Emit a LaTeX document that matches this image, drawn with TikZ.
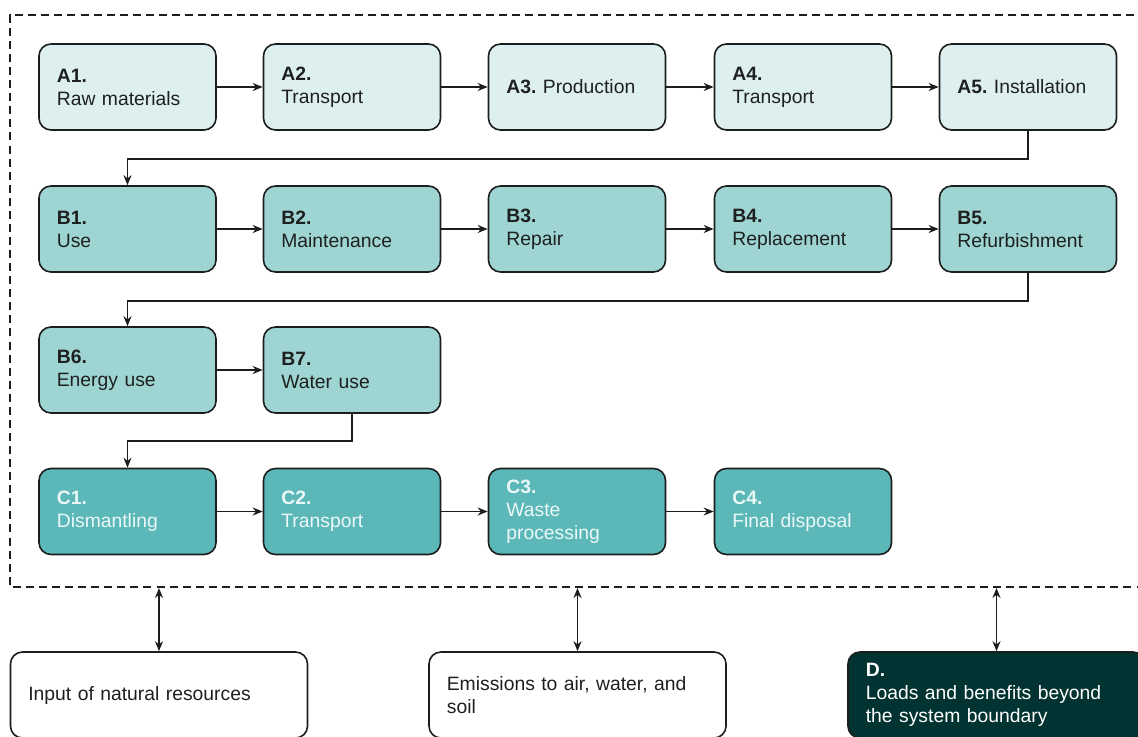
\documentclass[tikz,border=0pt]{standalone}
\usepackage{fontspec}
\setmainfont{Liberation Sans}
\usepackage{tikz}
\usetikzlibrary{arrows.meta,positioning,calc}
\usepackage{xcolor}
\definecolor{lcaline}{RGB}{28,30,30}
\definecolor{lcaA}{RGB}{221,240,239}
\definecolor{lcaB}{RGB}{158,213,211}
\definecolor{lcaC}{RGB}{92,184,184}
\definecolor{lcaD}{RGB}{0,51,49}
\definecolor{lcatext}{RGB}{30,32,32}
\definecolor{lcalight}{RGB}{236,248,248}
\tikzstyle{arrow} = [line width=1.3pt,-{Stealth[length=7.5pt,width=6pt]},color=lcaline]
\tikzstyle{dblarrow} = [line width=1.3pt,{Stealth[length=7.5pt,width=6pt]}-{Stealth[length=7.5pt,width=6pt]},color=lcaline]
\tikzstyle{stagebox} = [rectangle, rounded corners=9pt, minimum width=132.75pt, minimum height=64.5pt, text width=106pt, inner xsep=13.4pt, align=left, draw=lcaline, line width=1.2pt, font=\fontsize{14.5}{17.3}\selectfont]
\tikzstyle{stageA} = [stagebox, fill=lcaA, text=lcatext]
\tikzstyle{stageB} = [stagebox, fill=lcaB, text=lcatext]
\tikzstyle{stageC} = [stagebox, fill=lcaC, text=lcalight]
\tikzstyle{outbox} = [stagebox, minimum width=222.75pt, text width=196pt, fill=white, text=lcatext]
\tikzstyle{dbox} = [outbox, fill=lcaD, text=white]

\begin{document}
\begin{tikzpicture}[x=0.75pt, y=-0.75pt]
\useasboundingbox (0,0) rectangle (1138,736);
\clip (0,0) rectangle (1138,736);

% System boundary
\draw[line width=1.2pt, dash pattern=on 6pt off 3.8pt, color=lcaline] (1160,15) -| (10,587) -- (1160,587);
\coordinate (sysb) at (0,588);

% Product stage
\node[stageA] (a1) at (127.5, 87) {\textbf{A1.}\\Raw materials};
\node[stageA] (a2) at (352, 87) {\textbf{A2.}\\Transport};
\node[stageA] (a3) at (577, 87) {\textbf{A3.}\ Production};
\node[stageA] (a4) at (803, 87) {\textbf{A4.}\\Transport};
\node[stageA] (a5) at (1028, 87) {\textbf{A5.}\ Installation};

% Use stage
\node[stageB] (b1) at (127.5, 229) {\textbf{B1.}\\Use};
\node[stageB] (b2) at (352, 229) {\textbf{B2.}\\Maintenance};
\node[stageB] (b3) at (577, 229) {\textbf{B3.}\\Repair};
\node[stageB] (b4) at (803, 229) {\textbf{B4.}\\Replacement};
\node[stageB] (b5) at (1028, 229) {\textbf{B5.}\\Refurbishment};
\node[stageB] (b6) at (127.5, 370) {\textbf{B6.}\\Energy use};
\node[stageB] (b7) at (352, 370) {\textbf{B7.}\\Water use};

% End of life stage
\node[stageC] (c1) at (127.5, 511.5) {\textbf{C1.}\\Dismantling};
\node[stageC] (c2) at (352, 511.5) {\textbf{C2.}\\Transport};
\node[stageC] (c3) at (577, 511.5) {\textbf{C3.}\\Waste\\processing};
\node[stageC] (c4) at (803, 511.5) {\textbf{C4.}\\Final disposal};

% Outside the boundary
\node[outbox] (inp) at (159, 695) {Input of natural resources};
\node[outbox] (emi) at (577.5, 695) {Emissions to air, water, and\\soil};
\node[dbox] (dld) at (996.5, 695) {\textbf{D.}\\Loads and benefits beyond\\the system boundary};

% Flow
\foreach \s/\t in {a1/a2,a2/a3,a3/a4,a4/a5,b1/b2,b2/b3,b3/b4,b4/b5,b6/b7,c1/c2,c2/c3,c3/c4}
  \draw[arrow] (\s) -- (\t);
\draw[arrow] (a5.south) -- ++(0,28) -| (b1.north);
\draw[arrow] (b5.south) -- ++(0,28) -| (b6.north);
\draw[arrow] (b7.south) -- ++(0,27) -| (c1.north);

% Exchanges across the boundary
\draw[dblarrow] (inp.north) -- (inp.north |- sysb);
\draw[dblarrow] (emi.north) -- (emi.north |- sysb);
\draw[dblarrow] (dld.north) -- (dld.north |- sysb);
\end{tikzpicture}
\end{document}
